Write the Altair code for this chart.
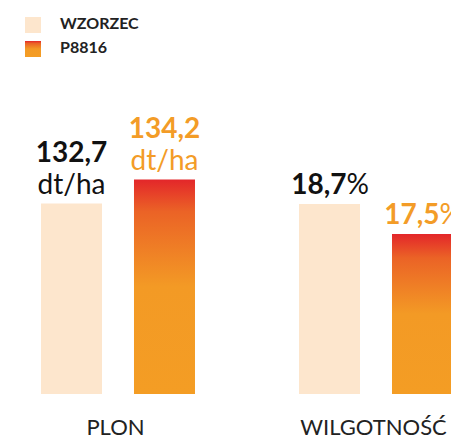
import altair as alt
import pandas as pd

# ---- data ----
series = ["WZORZEC", "P8816"]
groups = ["PLON", "WILGOTNOŚĆ"]
plon_values = [132.7, 134.2]
wilg_values = [18.7, 17.5]
units = ["dt/ha", "%"]

FONT = "Lato"
LIGHT = "#fde6cd"
ORANGE_TXT = "#f39c27"
DARK_TXT = "#111111"
TEXT_COLORS = [DARK_TXT, ORANGE_TXT]

grad = alt.Gradient(
    gradient="linear", x1=0, x2=0, y1=0, y2=1,
    stops=[
        alt.GradientStop(offset=0, color="#e3262a"),
        alt.GradientStop(offset=0.15, color="#eb6326"),
        alt.GradientStop(offset=0.5, color="#f39a25"),
        alt.GradientStop(offset=1, color="#f49d24"),
    ],
)


def fmt(v):
    return f"{v:.1f}".replace(".", ",")


X = alt.X("group:N", sort=groups,
          scale=alt.Scale(domain=groups, range=[0, 451], paddingInner=0.252, paddingOuter=0),
          axis=alt.Axis(title=None, ticks=False, domain=False, labelFont=FONT,
                        labelFontSize=22, labelFontWeight="normal", labelColor="#222222",
                        labelPadding=23, labelOffset=19, labelAngle=0))
XO = alt.XOffset("series:N", sort=series,
                 scale=alt.Scale(domain=series, range=[0, 236], paddingInner=0, paddingOuter=0.269))


def group_layers(gi, values, unit, domain, two_lines):
    df = pd.DataFrame({"group": groups[gi], "series": series, "value": values,
                       "label": [fmt(v) for v in values], "unit": unit})
    ys = alt.Scale(domain=domain, zero=False, nice=False)
    y = alt.Y("value:Q", scale=ys, axis=None)
    base = alt.Chart(df)
    layers = []
    for i, s in enumerate(series):
        color = LIGHT if i == 0 else grad
        layers.append(base.transform_filter(alt.datum.series == s)
                      .mark_bar(width=61, color=color, clip=True)
                      .encode(x=X, xOffset=XO, y=y, y2=alt.datum(domain[0])))
    for i, s in enumerate(series):
        b = base.transform_filter(alt.datum.series == s)
        c = TEXT_COLORS[i]
        if two_lines:
            layers.append(b.mark_text(font=FONT, fontSize=28, fontWeight="bold", color=c,
                                      baseline="alphabetic", align="center", dy=-41, clip=True)
                          .encode(x=X, xOffset=XO, y=y, text="label:N"))
            layers.append(b.mark_text(font=FONT, fontSize=28, fontWeight="normal", color=c,
                                      baseline="alphabetic", align="center", dy=-9, clip=True)
                          .encode(x=X, xOffset=XO, y=y, text="unit:N"))
        else:
            layers.append(b.mark_text(font=FONT, fontSize=28, fontWeight="bold", color=c,
                                      baseline="alphabetic", align="right", dx=17, dy=-10, clip=True)
                          .encode(x=X, xOffset=XO, y=y, text="label:N"))
            layers.append(b.mark_text(font=FONT, fontSize=28, fontWeight="normal", color=c,
                                      baseline="alphabetic", align="left", dx=17, dy=-10, clip=True)
                          .encode(x=X, xOffset=XO, y=y, text="unit:N"))
    return alt.layer(*layers)


legend_layers = []
for i, s in enumerate(series):
    ld = pd.DataFrame({"series": [s]})
    top = 17 + i * 24
    legend_layers.append(alt.Chart(ld).mark_rect(color=LIGHT if i == 0 else grad)
                         .encode(x=alt.value(25), x2=alt.value(41),
                                 y=alt.value(top), y2=alt.value(top + 16)))
    legend_layers.append(alt.Chart(ld).mark_text(font=FONT, fontSize=16, fontWeight="bold",
                                                 color="#222222", align="left",
                                                 baseline="alphabetic")
                         .encode(x=alt.value(60), y=alt.value(top + 12), text="series:N"))

plon = group_layers(0, plon_values, units[0], [120.8, 145.4], True)
wilg = group_layers(1, wilg_values, units[1], [11.1, 26.86], False)

chart = (
    alt.layer(plon, wilg, *legend_layers)
    .resolve_scale(y="independent")
    .properties(width=451, height=394, padding=0, background="white")
    .configure_view(stroke=None)
)

chart.save("out.html", embed_options={"renderer": "svg", "actions": False})
